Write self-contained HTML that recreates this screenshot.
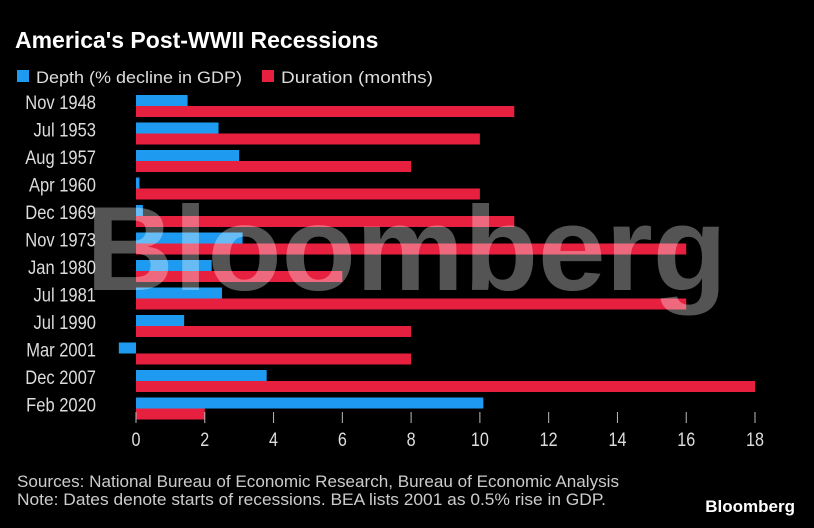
<!DOCTYPE html>
<html><head><meta charset="utf-8"><style>
body{margin:0;background:#000;width:814px;height:523px;overflow:hidden}
svg text{font-family:"Liberation Sans",sans-serif}
</style></head><body>
<svg id="chart" width="814" height="523">
<rect width="814" height="523" fill="#000"/>
<text x="15" y="48" fill="#fff" font-size="23" font-weight="bold">America's Post-WWII Recessions</text>
<g>
<rect x="17" y="70" width="12" height="12" fill="#1e9bf0"/>
<text x="36" y="83" fill="#ddd" font-size="17" textLength="206" lengthAdjust="spacingAndGlyphs">Depth (% decline in GDP)</text>
<rect x="262" y="70" width="12" height="12" fill="#e8203f"/>
<text x="281" y="83" fill="#ddd" font-size="17" textLength="152" lengthAdjust="spacingAndGlyphs">Duration (months)</text>
</g>
<g id="plot"></g>
<text x="86" y="290" fill="#fff" fill-opacity="0.33" font-size="120" font-weight="bold" textLength="641" lengthAdjust="spacingAndGlyphs">Bloomberg</text>
<text x="17" y="487" fill="#ccc" font-size="17" textLength="602" lengthAdjust="spacingAndGlyphs">Sources: National Bureau of Economic Research, Bureau of Economic Analysis</text>
<text x="17" y="505" fill="#ccc" font-size="17" textLength="589" lengthAdjust="spacingAndGlyphs">Note: Dates denote starts of recessions. BEA lists 2001 as 0.5% rise in GDP.</text>
<text x="795" y="512" fill="#fff" font-size="17" font-weight="bold" text-anchor="end">Bloomberg</text>
</svg>
<script>
const categories=["Nov 1948","Jul 1953","Aug 1957","Apr 1960","Dec 1969","Nov 1973","Jan 1980","Jul 1981","Jul 1990","Mar 2001","Dec 2007","Feb 2020"];
const depth=[1.5,2.4,3.0,0.1,0.2,3.1,2.2,2.5,1.4,-0.5,3.8,10.1];
const duration=[11,10,8,10,11,16,6,16,8,8,18,2];
const ticks=[0,2,4,6,8,10,12,14,16,18];
const NS="http://www.w3.org/2000/svg";
const g=document.getElementById('plot');
const x=v=>136+v*(755-136)/18;
const yRow=i=>95+i*27.5;
function mk(t,a){const e=document.createElementNS(NS,t);for(const k in a)e.setAttribute(k,a[k]);g.appendChild(e);return e;}
categories.forEach((c,i)=>{
  const y=yRow(i);
  const l=mk('text',{x:96,y:y+14,fill:'#ddd','font-size':19,'text-anchor':'end',transform:'translate(96 0) scale(0.87 1) translate(-96 0)'});
  l.textContent=c;
  
  
  const b=mk('rect',{x:Math.min(x(0),x(depth[i])),y:y,width:Math.abs(x(depth[i])-x(0)),height:11,fill:'#1e9bf0'});
  
  
  const r=mk('rect',{x:x(0),y:y+11,width:x(duration[i])-x(0),height:11,fill:'#e8203f'});
  
  
});
ticks.forEach(t=>{
  const tk=mk('line',{x1:x(t),x2:x(t),y1:412,y2:423,stroke:'#bbb','stroke-width':1});
  
  
  const tl=mk('text',{x:x(t),y:446,fill:'#ddd','font-size':19,'text-anchor':'middle',transform:'translate('+x(t)+' 0) scale(0.85 1) translate('+(-x(t))+' 0)'});
  tl.textContent=t;
  
  
});
</script>
</body></html>
